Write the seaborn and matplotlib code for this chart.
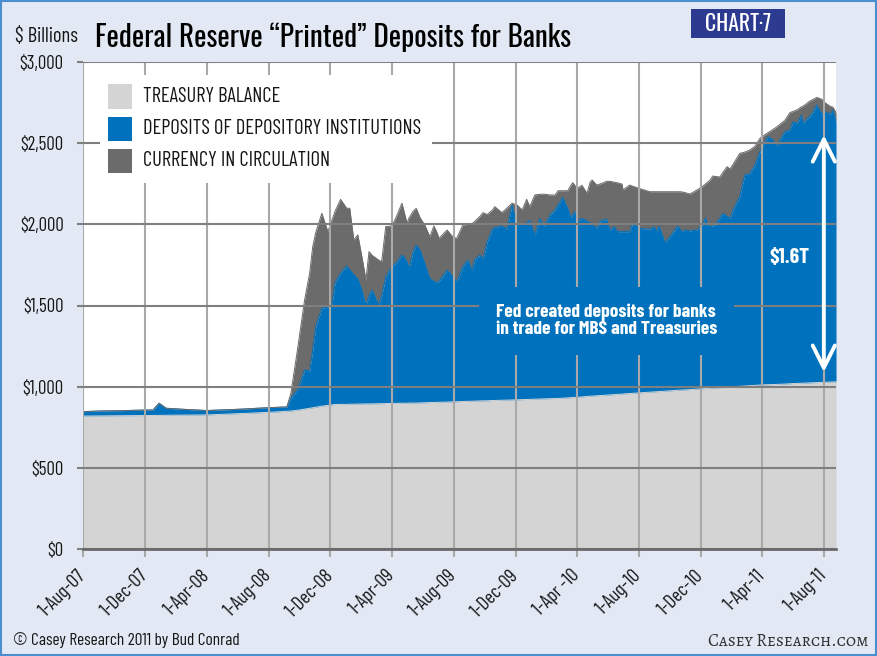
import numpy as np
import pandas as pd
import matplotlib
matplotlib.use("Agg")
import matplotlib.pyplot as plt
from matplotlib.patches import Rectangle
from matplotlib import font_manager as fm
import seaborn as sns

# ---- weekly-ish Fed balance sheet readings, $ billions ----
dates = [
    "2007-08-01", "2007-09-03", "2007-10-13", "2007-12-01", "2007-12-17", "2007-12-29", "2008-01-12", "2008-02-18", "2008-04-01", "2008-06-05",
    "2008-08-03", "2008-09-06", "2008-09-14", "2008-09-28", "2008-10-11", "2008-10-21", "2008-10-27", "2008-11-02", "2008-11-14", "2008-11-26",
    "2008-12-04", "2008-12-10", "2008-12-21", "2009-01-02", "2009-01-08", "2009-01-16", "2009-01-24", "2009-02-01", "2009-02-09", "2009-02-15",
    "2009-02-21", "2009-03-06", "2009-03-12", "2009-03-20", "2009-04-01", "2009-04-09", "2009-04-21", "2009-04-25", "2009-05-01", "2009-05-05",
    "2009-05-13", "2009-05-19", "2009-05-27", "2009-06-05", "2009-06-15", "2009-06-23", "2009-06-29", "2009-07-03", "2009-07-19", "2009-07-31",
    "2009-08-07", "2009-08-19", "2009-08-29", "2009-09-06", "2009-09-12", "2009-09-22", "2009-09-28", "2009-10-06", "2009-10-17", "2009-10-21",
    "2009-11-04", "2009-11-14", "2009-11-24", "2009-12-04", "2009-12-14", "2009-12-23", "2009-12-29", "2010-01-08", "2010-01-18", "2010-01-26",
    "2010-02-07", "2010-02-17", "2010-02-23", "2010-03-04", "2010-03-14", "2010-03-20", "2010-03-24", "2010-03-28", "2010-04-01", "2010-04-11",
    "2010-04-21", "2010-04-27", "2010-05-01", "2010-05-10", "2010-05-18", "2010-05-30", "2010-06-05", "2010-06-13", "2010-06-21", "2010-06-29",
    "2010-07-01", "2010-07-14", "2010-07-20", "2010-08-03", "2010-08-23", "2010-08-31", "2010-09-06", "2010-09-10", "2010-09-22", "2010-10-05",
    "2010-10-17", "2010-10-25", "2010-10-31", "2010-11-10", "2010-11-24", "2010-12-04", "2010-12-11", "2010-12-15", "2010-12-19", "2010-12-25",
    "2010-12-29", "2011-01-08", "2011-01-14", "2011-01-22", "2011-01-28", "2011-02-03", "2011-02-16", "2011-02-26", "2011-03-08", "2011-03-18",
    "2011-03-28", "2011-04-01", "2011-04-13", "2011-04-23", "2011-04-30", "2011-05-16", "2011-05-26", "2011-06-01", "2011-06-09", "2011-06-18",
    "2011-06-21", "2011-07-05", "2011-07-08", "2011-07-18", "2011-07-28", "2011-08-03", "2011-08-13", "2011-08-19", "2011-08-25",
]

treasury_balance = [
    819, 820, 821, 822, 823, 823, 824, 825, 826, 834,
    842, 848, 850, 855, 862, 867, 870, 873, 880, 885,
    888, 890, 891, 891, 892, 892, 893, 893, 894, 894,
    894, 895, 895, 896, 897, 897, 898, 898, 898, 899,
    899, 899, 900, 901, 902, 903, 903, 904, 905, 907,
    907, 909, 910, 910, 911, 912, 913, 913, 915, 915,
    916, 917, 918, 919, 920, 921, 922, 923, 924, 925,
    926, 927, 928, 929, 931, 932, 933, 934, 935, 937,
    940, 941, 942, 944, 946, 948, 949, 951, 953, 954,
    955, 958, 959, 962, 966, 968, 969, 970, 972, 975,
    978, 979, 980, 982, 985, 987, 989, 989, 990, 991,
    992, 994, 995, 997, 998, 999, 1002, 1004, 1006, 1008,
    1010, 1011, 1012, 1013, 1014, 1016, 1018, 1019, 1020, 1021,
    1021, 1023, 1024, 1025, 1026, 1027, 1028, 1029, 1030,
]

depository_deposits = [
    27, 30, 31, 34, 33, 75, 43, 35, 27, 27,
    29, 27, 80, 131, 241, 230, 356, 497, 605, 605,
    622, 749, 809, 853, 828, 798, 771, 703, 609, 666,
    702, 608, 665, 780, 843, 863, 913, 903, 872, 832,
    933, 974, 940, 859, 765, 747, 737, 746, 813, 770,
    740, 831, 871, 808, 874, 899, 872, 980, 1060, 1065,
    1074, 1053, 1201, 1085, 1084, 1089, 1103, 1012, 1113, 1061,
    1132, 1162, 1192, 1237, 1168, 1111, 1127, 1144, 1085, 1100,
    1080, 1070, 1058, 1031, 1076, 1083, 1016, 1035, 1002, 1001,
    1000, 997, 1048, 1013, 1004, 1018, 986, 1020, 915, 965,
    1012, 976, 985, 978, 980, 1009, 1051, 1007, 996, 999,
    1004, 1046, 1073, 1053, 1039, 1090, 1169, 1300, 1308, 1358,
    1438, 1469, 1528, 1506, 1469, 1555, 1563, 1613, 1602, 1652,
    1601, 1647, 1655, 1710, 1653, 1667, 1651, 1675, 1602,
]

currency_circulation = [
    0, 0, 0, 0, 0, 0, 0, 0, 0, 0,
    0, 0, 30, 264, 431, 603, 636, 580, 583, 465,
    517, 441, 454, 355, 379, 214, 271, 204, 154, 272,
    214, 277, 210, 310, 250, 280, 319, 279, 237, 309,
    248, 226, 199, 236, 257, 340, 310, 264, 247, 243,
    267, 256, 219, 284, 235, 239, 287, 167, 115, 129,
    82, 130, 11, 115, 85, 144, 84, 246, 148, 200,
    123, 92, 87, 41, 108, 197, 197, 162, 202, 203,
    171, 249, 273, 267, 228, 234, 300, 274, 300, 293,
    257, 287, 228, 245, 231, 215, 246, 211, 314, 261,
    211, 245, 230, 227, 247, 236, 210, 264, 284, 308,
    299, 252, 252, 305, 304, 281, 266, 141, 144, 114,
    82, 60, 25, 66, 117, 69, 107, 63, 83, 51,
    106, 91, 86, 47, 91, 56, 49, 17, 56,
]

series_labels = ["TREASURY BALANCE", "DEPOSITS OF DEPOSITORY INSTITUTIONS", "CURRENCY IN CIRCULATION"]
series_colors = ["#d4d4d4", "#0071bc", "#6b6b6b"]

tick_dates = ["2007-08-01", "2007-12-01", "2008-04-01", "2008-08-01", "2008-12-01", "2009-04-01", "2009-08-01",
              "2009-12-01", "2010-04-01", "2010-08-01", "2010-12-01", "2011-04-01", "2011-08-01"]
tick_labels = ["1-Aug-07", "1-Dec-07", "1-Apr-08", "1-Aug-08", "1-Dec-08", "1-Apr-09", "1-Aug-09",
               "1-Dec-09", "1-Apr -10", "1-Aug-10", "1-Dec-10", "1-Apr-11", "1-Aug-11"]
y_ticks = [0, 500, 1000, 1500, 2000, 2500, 3000]
y_labels = ["$0", "$500", "$1,000", "$1,500", "$2,000", "$2,500", "$3,000"]

# span of the "printed" deposits arrow
arrow_date = "2011-08-01"
arrow_low, arrow_high = 1090, 2550

assert len(dates) == len(treasury_balance) == len(depository_deposits) == len(currency_circulation)

# ---- fonts ----
_weights = {}
for _f in fm.fontManager.ttflist:
    try:
        _weights.setdefault(_f.name, set()).add(int(_f.weight))
    except (TypeError, ValueError):
        _weights.setdefault(_f.name, set()).add(400)


def pick(names, bold=False, fallback="DejaVu Sans"):
    for n in names:
        ws = _weights.get(n)
        if ws and (not bold or max(ws) >= 600):
            return n
    return fallback


NARROW_CHOICES = ["Barlow Condensed", "Roboto Condensed", "Archivo Narrow", "PT Sans Narrow",
                  "IBM Plex Sans Condensed"]
COND = pick(NARROW_CHOICES)
COND_BOLD = pick(NARROW_CHOICES, bold=True)
HEAVY = pick(["Oswald", "IBM Plex Sans Condensed", "Roboto Condensed"])
SMALLCAPS = pick(["Alegreya SC", "Cormorant SC", "Playfair Display SC"], fallback="DejaVu Serif")

sns.set_theme(style="white")
plt.rcParams["font.family"] = [COND, "DejaVu Sans"]
BG = "#e2e9f4"
INK = "#151515"
HGRID = "#7f7f7f"
VGRID = "#a9a9a9"

W, H = 877, 656
fig = plt.figure(figsize=(W / 100, H / 100), dpi=100, facecolor=BG)
renderer = fig.canvas.get_renderer()


def fit_size(text, target_px, family, weight="normal"):
    """Font size (pt) at which `text` spans target_px pixels."""
    probe = fig.text(0, 0, text, fontsize=20, family=family, fontweight=weight)
    w = probe.get_window_extent(renderer=renderer).width
    probe.remove()
    return 20 * target_px / w


def fx(px):
    return px / W


def fy(py):
    return 1 - py / H


ax = fig.add_axes([fx(83), fy(549), (836 - 83) / W, (549 - 62) / H])
ax.set_facecolor("white")

df = pd.DataFrame({
    "date": pd.to_datetime(dates),
    "treasury": treasury_balance,
    "deposits": depository_deposits,
    "currency": currency_circulation,
})

layers = ax.stackplot(df["date"], df["treasury"], df["deposits"], df["currency"],
                      colors=series_colors, labels=series_labels, linewidth=0, zorder=1)

# thin outlines along each layer's upper edge hide antialiasing seams
levels = np.cumsum(df[["treasury", "deposits", "currency"]].to_numpy(), axis=1)
for i, c in enumerate(series_colors):
    sns.lineplot(x=df["date"], y=levels[:, i], color=c, lw=0.7, ax=ax, zorder=1.2, legend=False)

ax.set_xlim(pd.Timestamp("2007-08-01"), pd.Timestamp("2011-08-25"))
ax.set_ylim(0, 3000)

# gridlines sit above the filled areas
ax.set_axisbelow(False)
ax.yaxis.grid(True, color=HGRID, lw=1.5)
ax.xaxis.grid(True, color=VGRID, lw=1.5)
for side in ("top", "right", "left"):
    ax.spines[side].set_visible(False)
ax.spines["bottom"].set_color("#6a6a6a")
ax.spines["bottom"].set_linewidth(2)
ax.spines["bottom"].set_zorder(3)

ytick_size = fit_size("$3,000", 44, COND)
xtick_size = fit_size("1-Aug-07", 57, COND)
ax.set_yticks(y_ticks)
ax.set_yticklabels(y_labels)
ax.set_xticks(pd.to_datetime(tick_dates))
ax.set_xticklabels(tick_labels, rotation=45, ha="right", va="center", rotation_mode="anchor")
ax.tick_params(axis="y", left=True, length=4, width=1.5, color=HGRID, pad=10,
               labelsize=ytick_size, labelcolor=INK)
ax.tick_params(axis="x", bottom=True, length=6, width=1.5, color=VGRID, pad=11,
               labelsize=xtick_size, labelcolor=INK)
ax.set_xlabel("")
ax.set_ylabel("")

# legend: white panel with square swatches, upper-left of the plot
leg_size = fit_size(series_labels[1], 278, COND)
fig.patches.append(Rectangle((fx(100), fy(183)), (432 - 100) / W, (183 - 75) / H,
                             transform=fig.transFigure, facecolor="white", edgecolor="none", zorder=3))
for row, (lab, col) in enumerate(zip(series_labels, series_colors)):
    cy = 96.5 + row * 32.2
    fig.patches.append(Rectangle((fx(108), fy(cy + 12)), 24 / W, 24 / H, transform=fig.transFigure,
                                 facecolor=col, edgecolor="none", zorder=4))
    fig.text(fx(143), fy(cy), lab, ha="left", va="center", fontsize=leg_size, family=COND,
             color=INK, zorder=4)

# annotations
note_size = fit_size("Fed created deposits for banks", 219, COND_BOLD, "bold")
ax.text(pd.Timestamp("2009-10-23"), 1405,
        "Fed created deposits for banks\nin trade for MBS and Treasuries",
        ha="left", va="center", color="white", fontsize=note_size, fontweight="bold",
        family=COND_BOLD, linespacing=1.0, zorder=4,
        bbox=dict(facecolor=series_colors[1], edgecolor="none", pad=12))
ax.text(pd.Timestamp("2011-05-26"), 1793, "$1.6T", ha="center", va="center", color="white",
        fontsize=fit_size("$1.6T", 40, COND_BOLD, "bold"), fontweight="bold", family=COND_BOLD,
        zorder=4)
ax.annotate("", xy=(pd.Timestamp(arrow_date), arrow_high), xytext=(pd.Timestamp(arrow_date), arrow_low),
            arrowprops=dict(arrowstyle="<->,head_length=1.6,head_width=0.8", color="white",
                            lw=2.8, shrinkA=0, shrinkB=0, mutation_scale=10), zorder=5)

# header
fig.text(fx(15), fy(36), "$ Billions", ha="left", va="center",
         fontsize=fit_size("$ Billions", 63, COND), family=COND, color=INK)
title = "Federal Reserve \u201cPrinted\u201d Deposits for Banks"
fig.text(fx(95), fy(37), title, ha="left", va="center",
         fontsize=fit_size(title, 477, HEAVY, "bold"), fontweight="bold", family=HEAVY, color="#000000")
fig.patches.append(Rectangle((fx(691), fy(38)), 94 / W, 29 / H, transform=fig.transFigure,
                             facecolor="#2c3a8f", edgecolor="none"))
fig.text(fx(738), fy(24), "CHART\u00b77", ha="center", va="center",
         fontsize=fit_size("CHART\u00b77", 66, HEAVY, "bold"), fontweight="bold", family=HEAVY,
         color="white")

# footer
credit = "\u00a9 Casey Research 2011 by Bud Conrad"
fig.text(fx(13), fy(640), credit, ha="left", va="center",
         fontsize=fit_size(credit, 227, COND), family=COND, color=INK)
site = "Casey Research.com"
fig.text(fx(708), fy(640), site, ha="left", va="center",
         fontsize=fit_size(site, 160, SMALLCAPS), family=SMALLCAPS, color="#333333")

# outer frame
fig.patches.append(Rectangle((0.0015, 0.002), 0.997, 0.996, transform=fig.transFigure,
                             fill=False, edgecolor="#4a8fd0", lw=1.5))

fig.savefig("out.png", dpi=100, facecolor=BG)
